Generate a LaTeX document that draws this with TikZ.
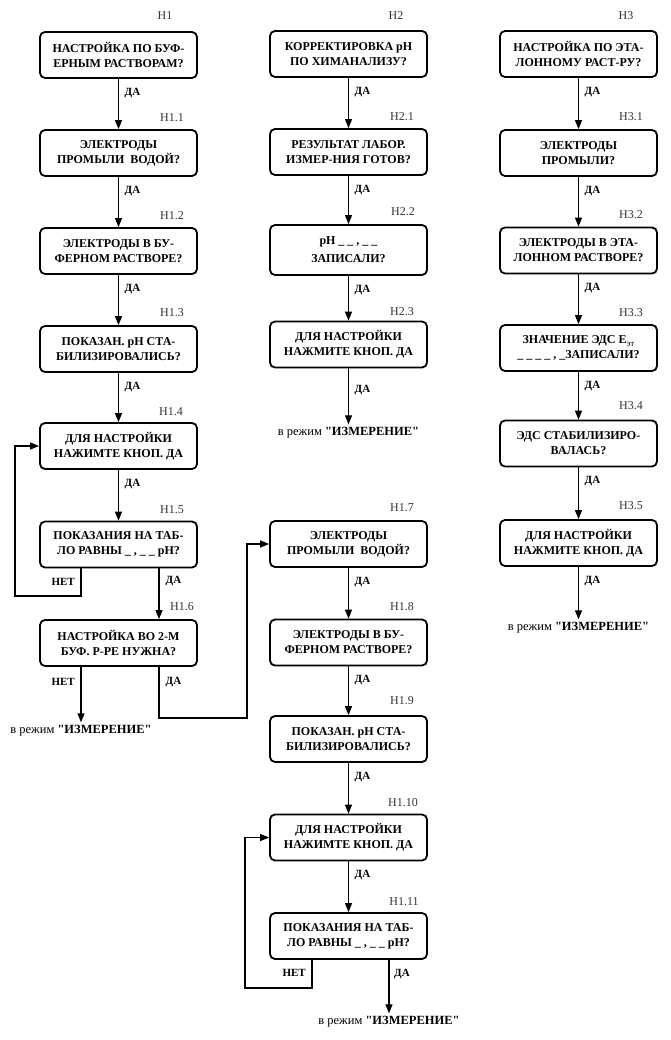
\documentclass[tikz,border=0pt]{standalone}
\usepackage{fontspec}
\setmainfont{Liberation Serif}[Ligatures=TeXOff]
\usetikzlibrary{arrows.meta}
\newcommand\qq{\symbol{34}}
\begin{document}
\begin{tikzpicture}[x=1pt,y=-1pt,
 box/.style={draw, line width=1.8pt, rounded corners=5pt, minimum width=157pt, minimum height=46pt, align=center, font=\fontsize{12}{15}\selectfont\bfseries, inner sep=2pt},
 num/.style={font=\fontsize{12}{13}\selectfont, text=black!80, inner sep=0pt},
 lbl/.style={font=\fontsize{11}{13}\selectfont\bfseries, inner sep=0pt},
 arr/.style={line width=1.1pt, -{Triangle[length=9pt,width=7pt]}},
 ln/.style={line width=1.1pt},
 fin/.style={font=\fontsize{12.5}{14}\selectfont, inner sep=3pt}]
\useasboundingbox (0,0) rectangle (671,1040);
% column 1
\node[box] (H1) at (118.5,55) {НАСТРОЙКА ПО БУФ-\\ЕРНЫМ РАСТВОРАМ?};
\node[box] (H11) at (118.5,153) {ЭЛЕКТРОДЫ\\ПРОМЫЛИ\ \ ВОДОЙ?};
\node[box] (H12) at (118.5,251) {ЭЛЕКТРОДЫ В БУ-\\ФЕРНОМ РАСТВОРЕ?};
\node[box] (H13) at (118.5,349) {ПОКАЗАН. pH СТА-\\БИЛИЗИРОВАЛИСЬ?};
\node[box] (H14) at (118.5,446) {ДЛЯ НАСТРОЙКИ\\НАЖИМТЕ КНОП. ДА};
\node[box] (H15) at (118.5,544.5) {ПОКАЗАНИЯ НА ТАБ-\\ЛО РАВНЫ \_ , \_ \_ pH?};
\node[box] (H16) at (118.5,643) {НАСТРОЙКА ВО 2-М\\БУФ. Р-РЕ НУЖНА?};
% column 2
\node[box] (H2) at (348.5,54) {КОРРЕКТИРОВКА pH\\ПО ХИМАНАЛИЗУ?};
\node[box] (H21) at (348.5,152) {РЕЗУЛЬТАТ ЛАБОР.\\ИЗМЕР-НИЯ ГОТОВ?};
\node[box, minimum height=50pt] (H22) at (348.5,250) {pH \_ \_ , \_ \_\\[3pt]ЗАПИСАЛИ?};
\node[box] (H23) at (348.5,344.5) {ДЛЯ НАСТРОЙКИ\\НАЖМИТЕ КНОП. ДА};
\node[box] (H17) at (348.5,544) {ЭЛЕКТРОДЫ\\ПРОМЫЛИ\ \ ВОДОЙ?};
\node[box] (H18) at (348.5,642.5) {ЭЛЕКТРОДЫ В БУ-\\ФЕРНОМ РАСТВОРЕ?};
\node[box] (H19) at (348.5,739) {ПОКАЗАН. pH СТА-\\БИЛИЗИРОВАЛИСЬ?};
\node[box] (H110) at (348.5,837.5) {ДЛЯ НАСТРОЙКИ\\НАЖИМТЕ КНОП. ДА};
\node[box] (H111) at (348.5,936) {ПОКАЗАНИЯ НА ТАБ-\\ЛО РАВНЫ \_ , \_ \_ pH?};
% column 3
\node[box] (H3) at (578.5,54) {НАСТРОЙКА ПО ЭТА-\\ЛОННОМУ РАСТ-РУ?};
\node[box] (H31) at (578.5,153) {ЭЛЕКТРОДЫ\\ПРОМЫЛИ?};
\node[box] (H32) at (578.5,250.5) {ЭЛЕКТРОДЫ В ЭТА-\\ЛОННОМ РАСТВОРЕ?};
\node[box] (H33) at (578.5,348) {ЗНАЧЕНИЕ ЭДС Е\raisebox{-2.5pt}{\fontsize{9}{9}\selectfont\mdseries эт}\\\_ \_ \_ \_ , \_ЗАПИСАЛИ?};
\node[box] (H34) at (578.5,443.5) {ЭДС СТАБИЛИЗИРО-\\ВАЛАСЬ?};
\node[box] (H35) at (578.5,543) {ДЛЯ НАСТРОЙКИ\\НАЖМИТЕ КНОП. ДА};
% number labels
\node[num] (n1) at (165,16) {Н1};
\node[num] (n11) at (172,118) {Н1.1};
\node[num] (n12) at (172,216) {Н1.2};
\node[num] (n13) at (172,313) {Н1.3};
\node[num] (n14) at (171,412) {Н1.4};
\node[num] (n15) at (172,510) {Н1.5};
\node[num] (n16) at (182,607) {Н1.6};
\node[num] (n2) at (396,16) {Н2};
\node[num] (n21) at (402,117) {Н2.1};
\node[num] (n22) at (403,212) {Н2.2};
\node[num] (n23) at (402,312) {Н2.3};
\node[num] (n17) at (402,508) {Н1.7};
\node[num] (n18) at (402,607) {Н1.8};
\node[num] (n19) at (402,701) {Н1.9};
\node[num] (n110) at (403,803) {Н1.10};
\node[num] (n111) at (404,902) {Н1.11};
\node[num] (n3) at (626,16) {Н3};
\node[num] (n31) at (631,117) {Н3.1};
\node[num] (n32) at (631,215) {Н3.2};
\node[num] (n33) at (631,313) {Н3.3};
\node[num] (n34) at (631,406) {Н3.4};
\node[num] (n35) at (631,506) {Н3.5};
% final texts
\node[fin] (E1) at (81,731) {в режим \textbf{\qq ИЗМЕРЕНИЕ\qq}};
\node[fin] (E2) at (348.5,433) {в режим \textbf{\qq ИЗМЕРЕНИЕ\qq}};
\node[fin] (E3) at (578.5,628) {в режим \textbf{\qq ИЗМЕРЕНИЕ\qq}};
\node[fin] (E4) at (389,1022) {в режим \textbf{\qq ИЗМЕРЕНИЕ\qq}};
% loop corners
\coordinate (L1) at (15,596);
\coordinate (L2) at (247,718);
\coordinate (L3) at (245,988);
% vertical arrows
\foreach \a/\b in {H1/H11,H11/H12,H12/H13,H13/H14,H14/H15,H2/H21,H21/H22,H22/H23,H23/E2,H17/H18,H18/H19,H19/H110,H110/H111,H3/H31,H31/H32,H32/H33,H33/H34,H34/H35,H35/E3}
  \draw[arr] (\a.south) -- (\b.north);
\foreach \a in {H1,H11,H12,H13,H14,H2,H21,H22,H17,H18,H19,H110,H3,H31,H32,H33,H34,H35}
  \node[lbl,anchor=west] at ([xshift=6pt,yshift=-14pt]\a.south) {ДА};
\node[lbl,anchor=west] at ([xshift=6pt,yshift=-22pt]H23.south) {ДА};
% branches
\draw[arr] ([xshift=40.5pt]H15.south) -- ([xshift=40.5pt]H16.north);
\node[lbl,anchor=west] at ([xshift=47pt,yshift=-13pt]H15.south) {ДА};
\draw[arr] ([xshift=-37.5pt]H15.south) |- (L1) |- (H14.west);
\node[lbl,anchor=east] at ([xshift=-43.5pt,yshift=-13pt]H15.south) {НЕТ};
\draw[arr] (E1.north |- H16.south) -- (E1.north);
\node[lbl,anchor=east] at ([xshift=-43.5pt,yshift=-15pt]H16.south) {НЕТ};
\draw[arr] ([xshift=40.5pt]H16.south) |- (L2) |- (H17.west);
\node[lbl,anchor=west] at ([xshift=47pt,yshift=-15pt]H16.south) {ДА};
\draw[arr] ([xshift=-36.5pt]H111.south) |- (L3) |- (H110.west);
\node[lbl,anchor=east] at ([xshift=-42.5pt,yshift=-13pt]H111.south) {НЕТ};
\draw[arr] (E4.north |- H111.south) -- (E4.north);
\node[lbl,anchor=west] at ([xshift=45.5pt,yshift=-14pt]H111.south) {ДА};
\end{tikzpicture}
\end{document}
